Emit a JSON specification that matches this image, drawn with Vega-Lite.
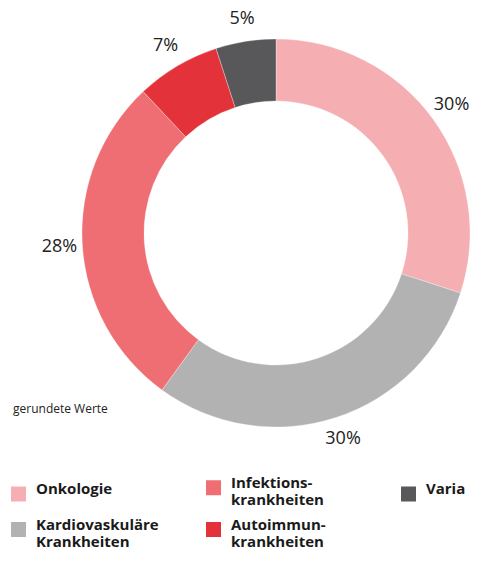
{
  "$schema": "https://vega.github.io/schema/vega-lite/v6.json",
  "width": 442,
  "height": 466,
  "autosize": "none",
  "padding": {"left": 55, "top": 0, "right": 0, "bottom": 99},
  "background": "white",
  "title": {
    "text": "gerundete Werte",
    "orient": "top",
    "anchor": "start",
    "frame": "group",
    "offset": 0,
    "baseline": "alphabetic",
    "dx": -42,
    "dy": 425,
    "fontSize": 12,
    "fontWeight": "normal",
    "font": "Open Sans",
    "color": "#222222"
  },
  "data": {
    "values": [
      {"category": "Onkologie", "share": 0.30, "ord": 1},
      {"category": "Kardiovaskuläre Krankheiten", "share": 0.30, "ord": 2},
      {"category": "Infektionskrankheiten", "share": 0.28, "ord": 3},
      {"category": "Autoimmunkrankheiten", "share": 0.07, "ord": 4},
      {"category": "Varia", "share": 0.05, "ord": 5}
    ]
  },
  "encoding": {
    "theta": {"field": "share", "type": "quantitative", "stack": true},
    "order": {"field": "ord", "type": "quantitative"}
  },
  "layer": [
    {
      "mark": {"type": "arc", "innerRadius": 132, "outerRadius": 194, "stroke": "white", "strokeWidth": 0.3},
      "encoding": {
        "color": {
          "field": "category",
          "type": "nominal",
          "scale": {
            "domain": ["Onkologie", "Infektionskrankheiten", "Varia", "Kardiovaskuläre Krankheiten", "Autoimmunkrankheiten"],
            "range": ["#f5aeb1", "#ee6e73", "#58585a", "#b2b2b3", "#e4323b"]
          },
          "legend": {
            "orient": "none",
            "legendX": -44,
            "legendY": 480,
            "columns": 3,
            "direction": "horizontal",
            "gridAlign": "all",
            "title": null,
            "symbolType": "square",
            "symbolSize": 225,
            "symbolStrokeWidth": 0,
            "symbolOpacity": 1,
            "columnPadding": 47,
            "rowPadding": 9,
            "labelOffset": 10,
            "labelFont": "Open Sans",
            "labelFontSize": 15,
            "labelFontWeight": "bold",
            "labelColor": "#1a1a1a",
            "labelLimit": 300,
            "labelBaseline": "alphabetic",
            "labelExpr": "datum.label == 'Kardiovaskuläre Krankheiten' ? ['Kardiovaskuläre', 'Krankheiten'] : datum.label == 'Infektionskrankheiten' ? ['Infektions-', 'krankheiten'] : datum.label == 'Autoimmunkrankheiten' ? ['Autoimmun-', 'krankheiten'] : datum.label",
            "encode": {
              "labels": {"update": {"dy": {"value": 10}, "lineHeight": {"value": 19}}}
            }
          }
        }
      }
    },
    {
      "mark": {"type": "text", "radius": 217, "font": "Open Sans", "fontSize": 18, "color": "#222222"},
      "encoding": {
        "text": {"field": "share", "type": "quantitative", "format": ".0%"}
      }
    }
  ]
}
